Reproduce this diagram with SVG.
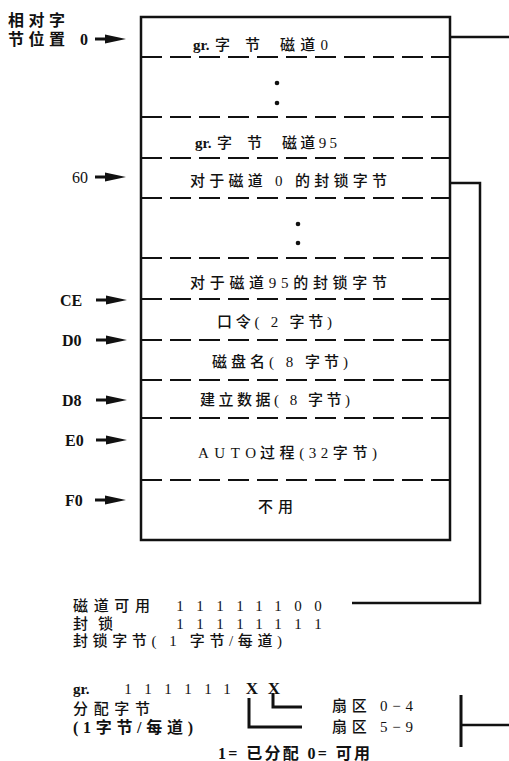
<svg xmlns="http://www.w3.org/2000/svg" width="509" height="761" viewBox="0 0 509 761">
<style>
.t{font-family:"Liberation Serif","Noto Sans CJK SC",serif;font-size:15px;font-weight:500;fill:#111;}
.b{font-family:"Liberation Serif","Noto Sans CJK SC",serif;font-size:16px;font-weight:bold;fill:#111;}
.box{fill:#fff;stroke:#111;stroke-width:2.5;}
.dash{stroke:#111;stroke-width:2.2;stroke-dasharray:21 8;fill:none;}
.ln{stroke:#111;stroke-width:2.5;fill:none;}
.br{stroke:#111;stroke-width:3;fill:none;}
.dot{fill:#111;}
</style>
<defs>
<g id="arr">
<line x1="0" y1="0" x2="14" y2="0" stroke="#111" stroke-width="3"/>
<polygon points="10,-4.5 31,0 10,4.5" fill="#111"/>
</g>
</defs>
<rect width="509" height="761" fill="#fff"/>

<g id="memory-box">
<rect class="box" x="141" y="17" width="309" height="523"/>
</g>

<g id="row-gr0">
<line class="dash" x1="141" y1="57" x2="450" y2="57"/>
<text class="b" x="193" y="50" style="font-size:15px">gr.</text>
<text class="t" x="215" y="50" textLength="45" lengthAdjust="spacing">字节</text>
<text class="t" x="280" y="50" textLength="48" lengthAdjust="spacing">磁道0</text>
</g>
<g id="row-dots1">
<line class="dash" x1="141" y1="117" x2="450" y2="117"/>
<circle class="dot" cx="277" cy="83" r="2.3"/>
<circle class="dot" cx="277" cy="103" r="2.3"/>
</g>
<g id="row-gr95">
<line class="dash" x1="141" y1="158" x2="450" y2="158"/>
<text class="b" x="195" y="148" style="font-size:15px">gr.</text>
<text class="t" x="217" y="148" textLength="45" lengthAdjust="spacing">字节</text>
<text class="t" x="282" y="148" textLength="55" lengthAdjust="spacing">磁道95</text>
</g>
<g id="row-lock0">
<line class="dash" x1="141" y1="198" x2="450" y2="198"/>
<text class="t" x="190" y="186" textLength="197" lengthAdjust="spacing">对于磁道 0 的封锁字节</text>
</g>
<g id="row-dots2">
<line class="dash" x1="141" y1="258" x2="450" y2="258"/>
<circle class="dot" cx="298" cy="224" r="2.3"/>
<circle class="dot" cx="298" cy="243" r="2.3"/>
</g>
<g id="row-lock95">
<line class="dash" x1="141" y1="299" x2="450" y2="299"/>
<text class="t" x="190" y="288" textLength="197" lengthAdjust="spacing">对于磁道95的封锁字节</text>
</g>
<g id="row-password">
<line class="dash" x1="141" y1="340" x2="450" y2="340"/>
<text class="t" x="217" y="327" textLength="115" lengthAdjust="spacing">口令( 2 字节)</text>
</g>
<g id="row-diskname">
<line class="dash" x1="141" y1="380" x2="450" y2="380"/>
<text class="t" x="212" y="367" textLength="136" lengthAdjust="spacing">磁盘名( 8 字节)</text>
</g>
<g id="row-setup">
<line class="dash" x1="141" y1="418" x2="450" y2="418"/>
<text class="t" x="200" y="405" textLength="150" lengthAdjust="spacing">建立数据( 8 字节)</text>
</g>
<g id="row-auto">
<line class="dash" x1="141" y1="480" x2="450" y2="480"/>
<text class="t" x="198" y="458" textLength="58" lengthAdjust="spacing">AUTO</text>
<text class="t" x="260" y="458" textLength="117" lengthAdjust="spacing">过程(32字节)</text>
</g>
<g id="row-unused">
<text class="t" x="258" y="512" textLength="35" lengthAdjust="spacing">不用</text>
</g>

<g id="offset-labels">
<text class="b" x="8" y="26" textLength="57" lengthAdjust="spacing">相对字</text>
<text class="b" x="8" y="45" textLength="57" lengthAdjust="spacing">节位置</text>
<text class="b" x="80" y="45">0</text>
<use href="#arr" x="95" y="39"/>
<text class="t" x="72" y="183" style="font-size:16px">60</text>
<use href="#arr" x="95" y="177"/>
<text class="b" x="60" y="306">CE</text>
<use href="#arr" x="96" y="300"/>
<text class="b" x="62" y="346">D0</text>
<use href="#arr" x="96" y="340"/>
<text class="b" x="62" y="406">D8</text>
<use href="#arr" x="96" y="400"/>
<text class="b" x="65" y="446">E0</text>
<use href="#arr" x="96" y="440"/>
<text class="b" x="65" y="506">F0</text>
<use href="#arr" x="95" y="500"/>
</g>

<g id="connectors">
<polyline class="ln" points="450,37 509,37"/>
<polyline class="ln" points="450,183 480,183 480,603 352,603"/>
<polyline class="br" points="461,695 461,747"/>
<polyline class="ln" points="461,725 509,725"/>
<polyline class="br" points="249,698 249,727 302,727"/>
<polyline class="br" points="273,693 273,707 302,707"/>
</g>

<g id="bitmap-notes">
<text class="t" x="73" y="611" textLength="77" lengthAdjust="spacing">磁道可用</text>
<text class="t" text-anchor="middle" y="611" x="180 200 220 240 259 278 298 318">11111100</text>
<text class="t" x="73" y="629" textLength="40" lengthAdjust="spacing">封锁</text>
<text class="t" text-anchor="middle" y="629" x="180 200 220 240 259 278 298 318">11111111</text>
<text class="t" x="73" y="646" textLength="209" lengthAdjust="spacing">封锁字节( 1 字节/每道)</text>
<text class="b" x="73" y="694" style="font-size:15px">gr.</text>
<text class="t" text-anchor="middle" y="694" x="128 148 168 188 208 227">111111</text>
<text class="b" text-anchor="middle" y="694" x="252 274" style="font-size:17px">XX</text>
<text class="t" x="73" y="714" textLength="77" lengthAdjust="spacing">分配字节</text>
<text class="b" x="73" y="733" textLength="120" lengthAdjust="spacing">(1字节/每道)</text>
<text class="t" x="332" y="711" textLength="81" lengthAdjust="spacing">扇区 0−4</text>
<text class="t" x="332" y="732" textLength="81" lengthAdjust="spacing">扇区 5−9</text>
<text class="b" x="218" y="759" textLength="152" lengthAdjust="spacing">1= 已分配  0= 可用</text>
</g>
</svg>
